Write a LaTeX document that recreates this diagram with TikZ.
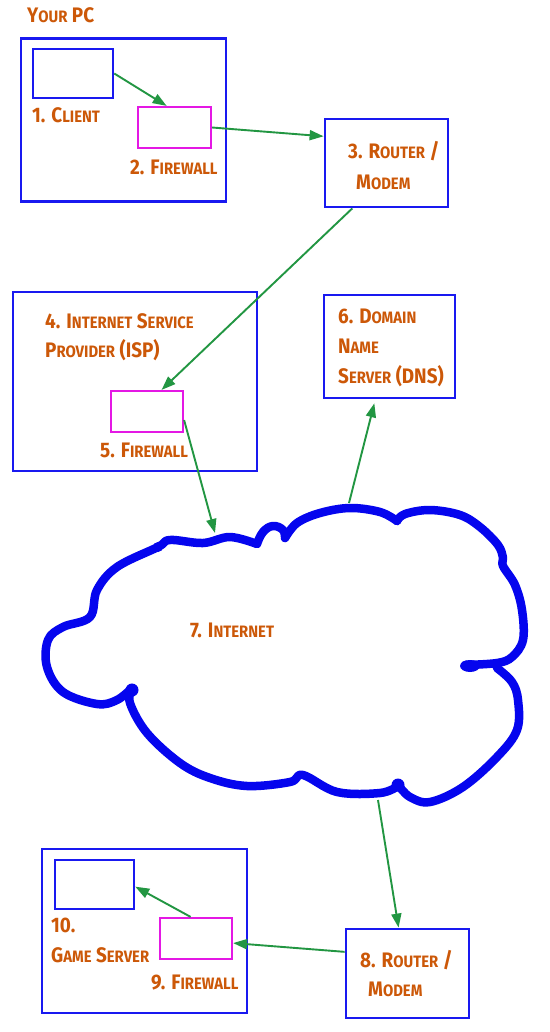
\documentclass[tikz,border=0pt]{standalone}
\usepackage{fontspec}
\setmainfont{Fira Sans}
\usetikzlibrary{arrows.meta}
\definecolor{txt}{RGB}{204,88,8}
\definecolor{bx}{RGB}{25,25,240}
\definecolor{mg}{RGB}{228,24,228}
\definecolor{ag}{RGB}{34,150,66}
\definecolor{cl}{RGB}{5,5,238}
\newcommand\smc[1]{{\fontsize{16.5}{16.5}\selectfont #1}}
\newcommand\sq[1]{\scalebox{0.9}[1]{#1}}
\tikzset{
  lbl/.style={anchor=base west, inner sep=0pt, text=txt, font=\bfseries\fontsize{21}{21}\selectfont},
  bigbox/.style={draw=bx, line width=2.8pt, inner sep=0pt},
  devbox/.style={draw=bx, line width=2.5pt, inner sep=0pt},
  fwbox/.style={draw=mg, line width=2.2pt, inner sep=0pt},
  arr/.style={draw=ag, line width=1.9pt, -{Triangle[length=14pt,width=10pt]}},
  cloudline/.style={draw=cl, line width=8.5pt, line cap=round, line join=round},
}
\begin{document}
\begin{tikzpicture}[x=1pt,y=-1pt]
\useasboundingbox[fill=white] (0,0) rectangle (549,1032);
% boxes
\node[bigbox, minimum width=205pt, minimum height=163pt] (pc) at (123.5,120) {};
\node[devbox, minimum width=80pt, minimum height=49pt] (client) at (73,73.5) {};
\node[fwbox, minimum width=73pt, minimum height=41pt] (fw1) at (174.5,127.5) {};
\node[bigbox, minimum width=123pt, minimum height=88pt] (r3) at (386.5,163) {};
\node[bigbox, minimum width=244pt, minimum height=179pt] (isp) at (135,381.5) {};
\node[fwbox, minimum width=72pt, minimum height=41pt] (fw5) at (147,411.5) {};
\node[bigbox, minimum width=131pt, minimum height=103pt] (dns) at (389.5,346.5) {};
\node[bigbox, minimum width=123pt, minimum height=89pt] (r8) at (407.5,973.5) {};
\node[bigbox, minimum width=205pt, minimum height=164pt] (gsb) at (144.5,931) {};
\node[devbox, minimum width=79pt, minimum height=49pt] (gs) at (94.5,884.5) {};
\node[fwbox, minimum width=72pt, minimum height=41pt] (fw9) at (196,938.5) {};
% labels
\node[lbl] (tpc) at (27,23) {\sq{Y\smc{OUR} PC}};
\node[lbl] (t1) at (32,123) {\sq{1. C\smc{LIENT}}};
\node[lbl] (t2) at (130,175) {\sq{2. F\smc{IREWALL}}};
\node[lbl] (t3a) at (348,159) {\sq{3. R\smc{OUTER} /}};
\node[lbl] (t3b) at (356,190) {\sq{M\smc{ODEM}}};
\node[lbl] (t4a) at (45,328) {\sq{4. I\smc{NTERNET} S\smc{ERVICE}}};
\node[lbl] (t4b) at (45,357) {\sq{P\smc{ROVIDER} (ISP)}};
\node[lbl] (t5) at (100,457) {\sq{5. F\smc{IREWALL}}};
\node[lbl] (t6a) at (338,323) {\sq{6. D\smc{OMAIN}}};
\node[lbl] (t6b) at (338,353) {\sq{N\smc{AME}}};
\node[lbl] (t6c) at (338,383) {\sq{S\smc{ERVER} (DNS)}};
\node[lbl] (t7) at (190,637) {\sq{7. I\smc{NTERNET}}};
\node[lbl] (t8a) at (360,967) {\sq{8. R\smc{OUTER} /}};
\node[lbl] (t8b) at (368,996) {\sq{M\smc{ODEM}}};
\node[lbl] (t10a) at (51,932) {\sq{10.}};
\node[lbl] (t10b) at (51,962) {\sq{G\smc{AME} S\smc{ERVER}}};
\node[lbl] (t9) at (151,989) {\sq{9. F\smc{IREWALL}}};
% cloud
\draw[cloudline] plot[smooth, tension=0.6] coordinates {(132,688) (117,700) (97,704) (63,692) (47,667) (48,640) (63,627) (90,617) (97,590) (117,567) (158,547) (170,540) (203,543) (230,537) (257,544)};
\draw[cloudline] plot[smooth, tension=0.7] coordinates {(257,544) (263,532) (273,526) (283,530) (285,538)};
\draw[cloudline] plot[smooth, tension=0.6] coordinates {(285,538) (297,523) (320,513) (350,508) (380,512) (397,521)};
\draw[cloudline] plot[smooth, tension=0.6] coordinates {(397,521) (405,514) (430,510) (460,515) (480,527) (498,545) (503,558) (503,566) (515,585) (522,610) (523,640) (512,657) (497,663) (465,665)};
\draw[cloudline] plot[smooth, tension=0.6] coordinates {(497,668) (512,682) (518,700) (517,730) (497,757) (463,787) (430,802) (410,797) (399,786)};
\draw[cloudline] plot[smooth, tension=0.6] coordinates {(398,786) (380,793) (337,792) (303,775) (290,782) (247,786) (210,778) (180,763) (147,733) (130,703) (132,688)};
\fill[cl] (132,690) circle (6.5);
\fill[cl] (398,785) circle (6.5);
\fill[cl] (470,666) ellipse (10 and 6);
\fill[cl] (158,547) circle (5);
% cloud connection points
\coordinate (cin) at (215,533);
\coordinate (cdns) at (349,503);
\coordinate (cout) at (378,800);
% arrows
\draw[arr] (client.east) -- (fw1.110);
\draw[arr] (fw1.east) -- (r3.157);
\draw[arr] (r3.233) -- (fw5.56);
\draw[arr] (fw5.-13) -- (cin);
\draw[arr, shorten >=4pt] (cdns) -- (dns.255);
\draw[arr] (cout) -- (r8.101);
\draw[arr] (r8.161) -- (fw9.-7);
\draw[arr] (fw9.104) -- (gs.-3);
\end{tikzpicture}
\end{document}
